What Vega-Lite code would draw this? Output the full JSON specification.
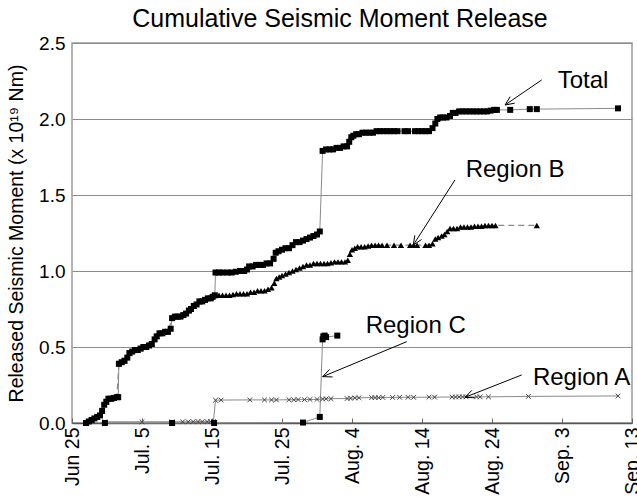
{
  "$schema": "https://vega.github.io/schema/vega-lite/v6.json",
  "width": 560,
  "height": 380,
  "autosize": "none",
  "padding": {"left": 72, "top": 43, "right": 5, "bottom": 75},
  "background": "white",
  "title": {"text": "Cumulative Seismic Moment Release", "fontSize": 25, "font": "Liberation Sans", "fontWeight": "normal", "color": "#000", "anchor": "middle", "frame": "group", "dx": -12, "dy": 9, "offset": 11},
  "config": {
    "font": "Liberation Sans",
    "view": {"stroke": "#9a9a9a", "strokeWidth": 1.5},
    "axis": {"labelColor": "#000", "titleColor": "#000", "labelFont": "Liberation Sans", "titleFont": "Liberation Sans"}
  },
  "datasets": {
    "quakes": [
      {"series":"Total","day":2.0,"moment":0.0},{"series":"Total","day":2.4,"moment":0.01},{"series":"Total","day":2.8,"moment":0.02},{"series":"Total","day":3.2,"moment":0.03},{"series":"Total","day":3.6,"moment":0.04},{"series":"Total","day":4.0,"moment":0.05},{"series":"Total","day":4.3,"moment":0.08},{"series":"Total","day":4.6,"moment":0.12},{"series":"Total","day":4.9,"moment":0.14},{"series":"Total","day":5.2,"moment":0.16},{"series":"Total","day":5.6,"moment":0.16},{"series":"Total","day":6.0,"moment":0.165},{"series":"Total","day":6.4,"moment":0.17},{"series":"Total","day":6.6,"moment":0.17},{"series":"Total","day":6.7,"moment":0.39},{"series":"Total","day":7.1,"moment":0.4},{"series":"Total","day":7.5,"moment":0.41},{"series":"Total","day":7.9,"moment":0.43},{"series":"Total","day":8.2,"moment":0.46},{"series":"Total","day":8.6,"moment":0.47},{"series":"Total","day":9.0,"moment":0.48},{"series":"Total","day":9.4,"moment":0.48},{"series":"Total","day":9.8,"moment":0.49},{"series":"Total","day":10.2,"moment":0.5},{"series":"Total","day":10.6,"moment":0.5},{"series":"Total","day":11.0,"moment":0.51},{"series":"Total","day":11.4,"moment":0.52},{"series":"Total","day":11.8,"moment":0.55},{"series":"Total","day":12.1,"moment":0.57},{"series":"Total","day":12.5,"moment":0.59},{"series":"Total","day":12.9,"moment":0.59},{"series":"Total","day":13.3,"moment":0.6},{"series":"Total","day":13.7,"moment":0.6},{"series":"Total","day":14.1,"moment":0.62},{"series":"Total","day":14.3,"moment":0.69},{"series":"Total","day":14.7,"moment":0.7},{"series":"Total","day":15.1,"moment":0.7},{"series":"Total","day":15.5,"moment":0.7},{"series":"Total","day":15.9,"moment":0.71},{"series":"Total","day":16.3,"moment":0.72},{"series":"Total","day":16.7,"moment":0.74},{"series":"Total","day":17.0,"moment":0.75},{"series":"Total","day":17.4,"moment":0.77},{"series":"Total","day":17.8,"moment":0.78},{"series":"Total","day":18.2,"moment":0.8},{"series":"Total","day":18.6,"moment":0.8},{"series":"Total","day":19.0,"moment":0.81},{"series":"Total","day":19.4,"moment":0.82},{"series":"Total","day":19.8,"moment":0.82},{"series":"Total","day":20.1,"moment":0.83},{"series":"Total","day":20.4,"moment":0.84},
      {"series":"Total","day":20.5,"moment":0.99},{"series":"Total","day":21.0,"moment":0.99},{"series":"Total","day":21.5,"moment":0.99},{"series":"Total","day":22.2,"moment":0.99},{"series":"Total","day":22.8,"moment":0.99},{"series":"Total","day":23.4,"moment":0.995},{"series":"Total","day":24.0,"moment":1.0},{"series":"Total","day":24.6,"moment":1.0},{"series":"Total","day":25.0,"moment":1.01},{"series":"Total","day":25.3,"moment":1.03},{"series":"Total","day":25.8,"moment":1.03},{"series":"Total","day":26.3,"moment":1.04},{"series":"Total","day":26.8,"moment":1.04},{"series":"Total","day":27.3,"moment":1.04},{"series":"Total","day":27.8,"moment":1.05},{"series":"Total","day":28.3,"moment":1.05},{"series":"Total","day":28.8,"moment":1.08},{"series":"Total","day":29.1,"moment":1.12},{"series":"Total","day":29.5,"moment":1.13},{"series":"Total","day":30.0,"moment":1.14},{"series":"Total","day":30.5,"moment":1.15},{"series":"Total","day":31.0,"moment":1.15},{"series":"Total","day":31.5,"moment":1.17},{"series":"Total","day":32.0,"moment":1.19},{"series":"Total","day":32.5,"moment":1.19},{"series":"Total","day":33.0,"moment":1.2},{"series":"Total","day":33.5,"moment":1.21},{"series":"Total","day":34.0,"moment":1.22},{"series":"Total","day":34.5,"moment":1.23},{"series":"Total","day":35.0,"moment":1.24},{"series":"Total","day":35.4,"moment":1.26},
      {"series":"Total","day":35.8,"moment":1.79},{"series":"Total","day":36.3,"moment":1.8},{"series":"Total","day":36.8,"moment":1.8},{"series":"Total","day":37.3,"moment":1.8},{"series":"Total","day":37.8,"moment":1.81},{"series":"Total","day":38.3,"moment":1.81},{"series":"Total","day":38.8,"moment":1.82},{"series":"Total","day":39.3,"moment":1.82},{"series":"Total","day":39.6,"moment":1.85},{"series":"Total","day":39.9,"moment":1.88},{"series":"Total","day":40.2,"moment":1.89},{"series":"Total","day":40.6,"moment":1.9},{"series":"Total","day":41.0,"moment":1.9},{"series":"Total","day":41.5,"moment":1.91},{"series":"Total","day":42.0,"moment":1.91},{"series":"Total","day":42.5,"moment":1.91},{"series":"Total","day":43.0,"moment":1.91},{"series":"Total","day":43.5,"moment":1.92},{"series":"Total","day":44.0,"moment":1.92},{"series":"Total","day":44.5,"moment":1.92},{"series":"Total","day":45.0,"moment":1.92},{"series":"Total","day":45.5,"moment":1.92},{"series":"Total","day":46.0,"moment":1.92},{"series":"Total","day":46.5,"moment":1.92},{"series":"Total","day":47.5,"moment":1.92},{"series":"Total","day":48.0,"moment":1.92},{"series":"Total","day":49.0,"moment":1.92},{"series":"Total","day":49.5,"moment":1.92},{"series":"Total","day":50.0,"moment":1.92},{"series":"Total","day":50.5,"moment":1.92},{"series":"Total","day":51.0,"moment":1.92},{"series":"Total","day":51.5,"moment":1.94},{"series":"Total","day":51.9,"moment":1.97},{"series":"Total","day":52.2,"moment":2.0},{"series":"Total","day":52.6,"moment":2.01},{"series":"Total","day":53.0,"moment":2.01},{"series":"Total","day":53.5,"moment":2.01},{"series":"Total","day":54.0,"moment":2.02},{"series":"Total","day":54.4,"moment":2.04},{"series":"Total","day":54.8,"moment":2.04},{"series":"Total","day":55.3,"moment":2.05},{"series":"Total","day":55.8,"moment":2.05},{"series":"Total","day":56.3,"moment":2.05},{"series":"Total","day":56.8,"moment":2.05},{"series":"Total","day":57.3,"moment":2.05},{"series":"Total","day":57.8,"moment":2.05},{"series":"Total","day":58.3,"moment":2.05},{"series":"Total","day":58.8,"moment":2.05},{"series":"Total","day":59.3,"moment":2.05},{"series":"Total","day":59.8,"moment":2.055},{"series":"Total","day":60.3,"moment":2.06},{"series":"Total","day":60.7,"moment":2.06},{"series":"Total","day":62.6,"moment":2.06},{"series":"Total","day":65.4,"moment":2.065},{"series":"Total","day":66.4,"moment":2.065},{"series":"Total","day":78.0,"moment":2.07},

      {"series":"B","day":2.0,"moment":0.0},{"series":"B","day":2.8,"moment":0.02},{"series":"B","day":3.6,"moment":0.04},{"series":"B","day":4.3,"moment":0.08},{"series":"B","day":4.9,"moment":0.14},{"series":"B","day":5.6,"moment":0.16},{"series":"B","day":6.4,"moment":0.17},{"series":"B","day":6.7,"moment":0.39},{"series":"B","day":7.5,"moment":0.41},{"series":"B","day":8.2,"moment":0.46},{"series":"B","day":9.0,"moment":0.48},{"series":"B","day":9.8,"moment":0.49},{"series":"B","day":10.6,"moment":0.5},{"series":"B","day":11.4,"moment":0.52},{"series":"B","day":12.1,"moment":0.57},{"series":"B","day":12.9,"moment":0.59},{"series":"B","day":13.7,"moment":0.6},{"series":"B","day":14.3,"moment":0.69},{"series":"B","day":15.1,"moment":0.7},{"series":"B","day":15.9,"moment":0.71},{"series":"B","day":16.7,"moment":0.74},{"series":"B","day":17.4,"moment":0.77},{"series":"B","day":18.2,"moment":0.8},{"series":"B","day":19.0,"moment":0.81},{"series":"B","day":19.8,"moment":0.82},{"series":"B","day":20.4,"moment":0.84},
      {"series":"B","day":21.0,"moment":0.84},{"series":"B","day":21.5,"moment":0.84},{"series":"B","day":22.0,"moment":0.84},{"series":"B","day":22.5,"moment":0.84},{"series":"B","day":23.0,"moment":0.845},{"series":"B","day":23.5,"moment":0.85},{"series":"B","day":24.0,"moment":0.85},{"series":"B","day":24.5,"moment":0.85},{"series":"B","day":25.0,"moment":0.85},{"series":"B","day":25.5,"moment":0.86},{"series":"B","day":26.0,"moment":0.86},{"series":"B","day":26.5,"moment":0.87},{"series":"B","day":27.0,"moment":0.87},{"series":"B","day":27.5,"moment":0.87},{"series":"B","day":28.0,"moment":0.88},{"series":"B","day":28.5,"moment":0.89},{"series":"B","day":28.9,"moment":0.92},{"series":"B","day":29.2,"moment":0.95},{"series":"B","day":29.6,"moment":0.96},{"series":"B","day":30.0,"moment":0.97},{"series":"B","day":30.5,"moment":0.98},{"series":"B","day":31.0,"moment":0.99},{"series":"B","day":31.5,"moment":1.0},{"series":"B","day":32.0,"moment":1.01},{"series":"B","day":32.5,"moment":1.02},{"series":"B","day":33.0,"moment":1.03},{"series":"B","day":33.5,"moment":1.04},{"series":"B","day":34.0,"moment":1.04},{"series":"B","day":34.5,"moment":1.05},{"series":"B","day":35.0,"moment":1.05},{"series":"B","day":35.5,"moment":1.05},{"series":"B","day":36.0,"moment":1.05},{"series":"B","day":36.5,"moment":1.05},{"series":"B","day":37.0,"moment":1.055},{"series":"B","day":37.5,"moment":1.06},{"series":"B","day":38.0,"moment":1.06},{"series":"B","day":38.5,"moment":1.06},{"series":"B","day":39.0,"moment":1.06},{"series":"B","day":39.4,"moment":1.07},{"series":"B","day":39.7,"moment":1.11},{"series":"B","day":40.0,"moment":1.14},{"series":"B","day":40.4,"moment":1.15},{"series":"B","day":40.8,"moment":1.16},{"series":"B","day":41.3,"moment":1.16},{"series":"B","day":41.8,"moment":1.16},{"series":"B","day":42.3,"moment":1.165},{"series":"B","day":42.8,"moment":1.17},{"series":"B","day":43.3,"moment":1.17},{"series":"B","day":43.8,"moment":1.17},{"series":"B","day":44.3,"moment":1.17},{"series":"B","day":45.0,"moment":1.17},{"series":"B","day":46.0,"moment":1.17},{"series":"B","day":47.0,"moment":1.17},{"series":"B","day":48.3,"moment":1.17},{"series":"B","day":48.8,"moment":1.17},{"series":"B","day":49.3,"moment":1.17},{"series":"B","day":50.5,"moment":1.17},{"series":"B","day":51.0,"moment":1.17},{"series":"B","day":51.5,"moment":1.18},{"series":"B","day":51.9,"moment":1.21},{"series":"B","day":52.3,"moment":1.22},{"series":"B","day":52.8,"moment":1.23},{"series":"B","day":53.2,"moment":1.24},{"series":"B","day":53.6,"moment":1.26},{"series":"B","day":54.0,"moment":1.28},{"series":"B","day":54.5,"moment":1.28},{"series":"B","day":55.0,"moment":1.28},{"series":"B","day":55.5,"moment":1.29},{"series":"B","day":56.0,"moment":1.29},{"series":"B","day":56.5,"moment":1.29},{"series":"B","day":57.0,"moment":1.29},{"series":"B","day":57.5,"moment":1.295},{"series":"B","day":58.0,"moment":1.295},{"series":"B","day":58.5,"moment":1.295},{"series":"B","day":59.0,"moment":1.3},{"series":"B","day":59.5,"moment":1.3},{"series":"B","day":60.0,"moment":1.3},{"series":"B","day":60.5,"moment":1.3},{"series":"B","day":66.4,"moment":1.3},

      {"series":"C","day":4.7,"moment":0.0},{"series":"C","day":14.3,"moment":0.0},{"series":"C","day":20.3,"moment":0.0},{"series":"C","day":33.0,"moment":0.003},{"series":"C","day":35.4,"moment":0.04},{"series":"C","day":35.8,"moment":0.55},{"series":"C","day":35.9,"moment":0.57},{"series":"C","day":36.1,"moment":0.575},{"series":"C","day":36.3,"moment":0.565},{"series":"C","day":37.9,"moment":0.575},

      {"series":"A","day":4.7,"moment":0.008},{"series":"A","day":10.0,"moment":0.008},{"series":"A","day":14.3,"moment":0.008},{"series":"A","day":15.8,"moment":0.008},{"series":"A","day":16.6,"moment":0.008},{"series":"A","day":17.3,"moment":0.009},{"series":"A","day":18.0,"moment":0.009},{"series":"A","day":18.6,"moment":0.009},{"series":"A","day":19.3,"moment":0.009},{"series":"A","day":19.8,"moment":0.01},{"series":"A","day":20.2,"moment":0.01},{"series":"A","day":20.5,"moment":0.15},{"series":"A","day":21.3,"moment":0.151},{"series":"A","day":25.4,"moment":0.152},{"series":"A","day":27.5,"moment":0.152},{"series":"A","day":28.5,"moment":0.152},{"series":"A","day":29.2,"moment":0.152},{"series":"A","day":31.0,"moment":0.153},{"series":"A","day":31.7,"moment":0.153},{"series":"A","day":32.3,"moment":0.154},{"series":"A","day":33.2,"moment":0.154},{"series":"A","day":34.0,"moment":0.155},{"series":"A","day":35.0,"moment":0.155},{"series":"A","day":35.8,"moment":0.158},{"series":"A","day":36.3,"moment":0.159},{"series":"A","day":37.0,"moment":0.16},{"series":"A","day":39.3,"moment":0.161},{"series":"A","day":39.8,"moment":0.163},{"series":"A","day":40.4,"moment":0.165},{"series":"A","day":41.0,"moment":0.166},{"series":"A","day":42.8,"moment":0.167},{"series":"A","day":43.3,"moment":0.167},{"series":"A","day":43.8,"moment":0.167},{"series":"A","day":44.4,"moment":0.168},{"series":"A","day":45.8,"moment":0.168},{"series":"A","day":46.8,"moment":0.169},{"series":"A","day":48.0,"moment":0.169},{"series":"A","day":48.8,"moment":0.169},{"series":"A","day":51.0,"moment":0.17},{"series":"A","day":51.8,"moment":0.17},{"series":"A","day":54.3,"moment":0.171},{"series":"A","day":54.8,"moment":0.171},{"series":"A","day":55.3,"moment":0.172},{"series":"A","day":55.8,"moment":0.172},{"series":"A","day":56.3,"moment":0.172},{"series":"A","day":57.8,"moment":0.172},{"series":"A","day":58.3,"moment":0.172},{"series":"A","day":59.5,"moment":0.172},{"series":"A","day":65.2,"moment":0.175},{"series":"A","day":78.0,"moment":0.178}
    ],
    "arrows": [
      {"day":67.1,"moment":2.257,"day2":61.86,"moment2":2.092},{"day":61.86,"moment":2.092,"day2":62.6,"moment2":2.147},{"day":61.86,"moment":2.092,"day2":63.24,"moment2":2.104},
      {"day":54.71,"moment":1.599,"day2":48.76,"moment2":1.171},{"day":48.76,"moment":1.171,"day2":48.97,"moment2":1.235},{"day":48.76,"moment":1.171,"day2":49.93,"moment2":1.207},
      {"day":47.81,"moment":0.535,"day2":35.81,"moment2":0.305},{"day":35.81,"moment":0.305,"day2":36.78,"moment2":0.352},{"day":35.81,"moment":0.305,"day2":37.22,"moment2":0.303},
      {"day":64.24,"moment":0.316,"day2":56.14,"moment2":0.169},{"day":56.14,"moment":0.169,"day2":57.13,"moment2":0.215},{"day":56.14,"moment":0.169,"day2":57.55,"moment2":0.166}
    ],
    "labels": [
      {"label":"Total","day":73.0,"moment":2.202},
      {"label":"Region B","day":63.29,"moment":1.618},
      {"label":"Region C","day":49.1,"moment":0.592},
      {"label":"Region A","day":72.8,"moment":0.25}
    ]
  },
  "data": {"name": "quakes"},
  "encoding": {
    "x": {"field": "day", "type": "quantitative",
      "scale": {"domain": [0, 80], "nice": false, "zero": false},
      "axis": {"values": [0,10,20,30,40,50,60,70,80], "title": null, "grid": false,
        "labelExpr": "['Jun 25','Jul. 5','Jul. 15','Jul. 25','Aug. 4','Aug. 14','Aug. 24','Sep. 3','Sep. 13'][round(datum.value/10)]",
        "labelAngle": -90, "labelAlign": "right", "labelBaseline": "middle", "labelFontSize": 19.5, "labelPadding": 9,
        "ticks": true, "tickSize": -5, "tickColor": "#666", "domainColor": "#555", "domainWidth": 1.5, "labelFlush": false, "labelOverlap": false}},
    "y": {"field": "moment", "type": "quantitative",
      "scale": {"domain": [0, 2.5], "nice": false},
      "axis": {"values": [0,0.5,1,1.5,2,2.5], "format": ".1f", "title": "Released Seismic Moment (x 10¹⁹ Nm)",
        "titleFontSize": 19.5, "titleFontWeight": "normal", "titlePadding": 12, "labelFontSize": 19, "labelPadding": 7,
        "ticks": false, "domain": false, "grid": true, "gridColor": "#8c8c8c", "gridWidth": 1, "labelFlush": false}}
  },
  "layer": [
    {"transform": [{"filter": "datum.series === 'A'"}], "mark": {"type": "line", "color": "#8a8a8a", "strokeWidth": 1}},
    {"transform": [{"filter": "datum.series === 'C'"}], "mark": {"type": "line", "color": "#8a8a8a", "strokeWidth": 1}},
    {"transform": [{"filter": "datum.series === 'B'"}], "mark": {"type": "line", "color": "#8a8a8a", "strokeWidth": 1.2, "strokeDash": [6, 4]}},
    {"transform": [{"filter": "datum.series === 'Total'"}], "mark": {"type": "line", "color": "#8a8a8a", "strokeWidth": 1}},
    {"transform": [{"filter": "datum.series === 'A'"}], "mark": {"type": "point", "shape": "M-1,-1L1,1M1,-1L-1,1", "filled": false, "size": 22, "color": "#444", "strokeWidth": 1, "opacity": 1}},
    {"transform": [{"filter": "datum.series === 'C'"}], "mark": {"type": "point", "shape": "square", "filled": true, "size": 36, "color": "#000", "opacity": 1}},
    {"transform": [{"filter": "datum.series === 'B'"}], "mark": {"type": "point", "shape": "triangle-up", "filled": true, "size": 40, "color": "#000", "opacity": 1}},
    {"transform": [{"filter": "datum.series === 'Total'"}], "mark": {"type": "point", "shape": "square", "filled": true, "size": 36, "color": "#000", "opacity": 1}},
    {"data": {"name": "arrows"}, "mark": {"type": "rule", "color": "#000", "strokeWidth": 1},
      "encoding": {"x2": {"field": "day2"}, "y2": {"field": "moment2"}}},
    {"data": {"name": "labels"}, "mark": {"type": "text", "fontSize": 24, "align": "center", "baseline": "alphabetic", "color": "#000"},
      "encoding": {"text": {"field": "label"}}}
  ]
}
